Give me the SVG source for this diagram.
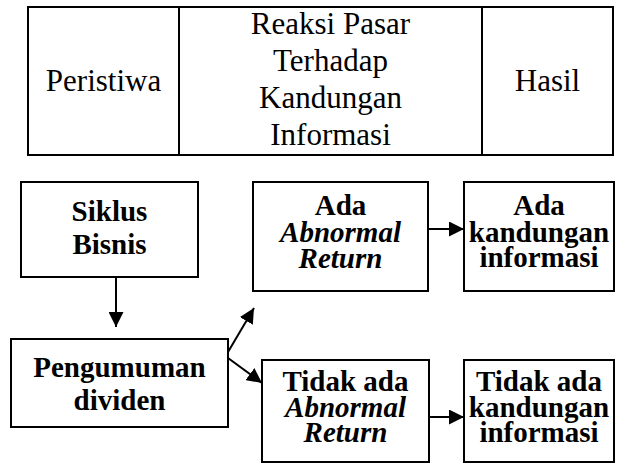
<svg xmlns="http://www.w3.org/2000/svg" width="639" height="464" viewBox="0 0 639 464">
  <style>
    .box { fill: #ffffff; stroke: #000000; stroke-width: 2; }
    .tbl { fill: none; stroke: #000000; stroke-width: 2; }
    .th { font-family: "Liberation Serif", "Times New Roman", serif; font-size: 31px; fill: #000000; text-anchor: middle; }
    .bt { font-family: "Liberation Serif", "Times New Roman", serif; font-size: 29px; font-weight: bold; fill: #000000; text-anchor: middle; }
    .it { font-style: italic; }
    .conn { fill: none; stroke: #000000; stroke-width: 2; }
  </style>
  <defs>
    <marker id="arrow" viewBox="0 0 15 15" refX="15" refY="7.5" markerWidth="15" markerHeight="15" markerUnits="userSpaceOnUse" orient="auto">
      <path d="M0,0 L15,7.5 L0,15 z" fill="#000000"/>
    </marker>
  </defs>

  <g id="header-table">
    <rect class="tbl" x="28" y="7" width="585" height="148"/>
    <line class="tbl" x1="179" y1="7" x2="179" y2="155"/>
    <line class="tbl" x1="482" y1="7" x2="482" y2="155"/>
    <text class="th" x="103.5" y="91">Peristiwa</text>
    <text class="th" x="330.5" y="34">Reaksi Pasar</text>
    <text class="th" x="330.5" y="71">Terhadap</text>
    <text class="th" x="330.5" y="108">Kandungan</text>
    <text class="th" x="330.5" y="145">Informasi</text>
    <text class="th" x="547.5" y="91">Hasil</text>
  </g>

  <g id="siklus-bisnis">
    <rect class="box" x="21" y="182" width="177" height="95"/>
    <text class="bt" x="109.5" y="221">Siklus</text>
    <text class="bt" x="109.5" y="254">Bisnis</text>
  </g>

  <g id="pengumuman-dividen">
    <rect class="box" x="11" y="339" width="217" height="88"/>
    <text class="bt" x="119.5" y="377">Pengumuman</text>
    <text class="bt" x="119.5" y="410">dividen</text>
  </g>

  <g id="ada-abnormal-return">
    <rect class="box" x="253" y="182" width="175" height="109"/>
    <text class="bt" x="340.5" y="215">Ada</text>
    <text class="bt it" x="340.5" y="242">Abnormal</text>
    <text class="bt it" x="340.5" y="268">Return</text>
  </g>

  <g id="ada-kandungan-informasi">
    <rect class="box" x="464" y="182" width="150" height="109"/>
    <text class="bt" x="539" y="215">Ada</text>
    <text class="bt" x="539" y="242">kandungan</text>
    <text class="bt" x="539" y="267">informasi</text>
  </g>

  <g id="tidak-ada-abnormal-return">
    <rect class="box" x="262" y="360" width="167" height="102"/>
    <text class="bt" x="345.5" y="391">Tidak ada</text>
    <text class="bt it" x="345.5" y="417">Abnormal</text>
    <text class="bt it" x="345.5" y="442">Return</text>
  </g>

  <g id="tidak-ada-kandungan-informasi">
    <rect class="box" x="464" y="360" width="150" height="102"/>
    <text class="bt" x="539" y="391">Tidak ada</text>
    <text class="bt" x="539" y="417">kandungan</text>
    <text class="bt" x="539" y="442">informasi</text>
  </g>

  <g id="connectors">
    <line class="conn" x1="116" y1="277" x2="116" y2="327" marker-end="url(#arrow)"/>
    <line class="conn" x1="228" y1="352" x2="254" y2="308" marker-end="url(#arrow)"/>
    <line class="conn" x1="228" y1="358" x2="262" y2="383" marker-end="url(#arrow)"/>
    <line class="conn" x1="428" y1="229" x2="464" y2="229" marker-end="url(#arrow)"/>
    <line class="conn" x1="429" y1="417" x2="464" y2="417" marker-end="url(#arrow)"/>
  </g>
</svg>
